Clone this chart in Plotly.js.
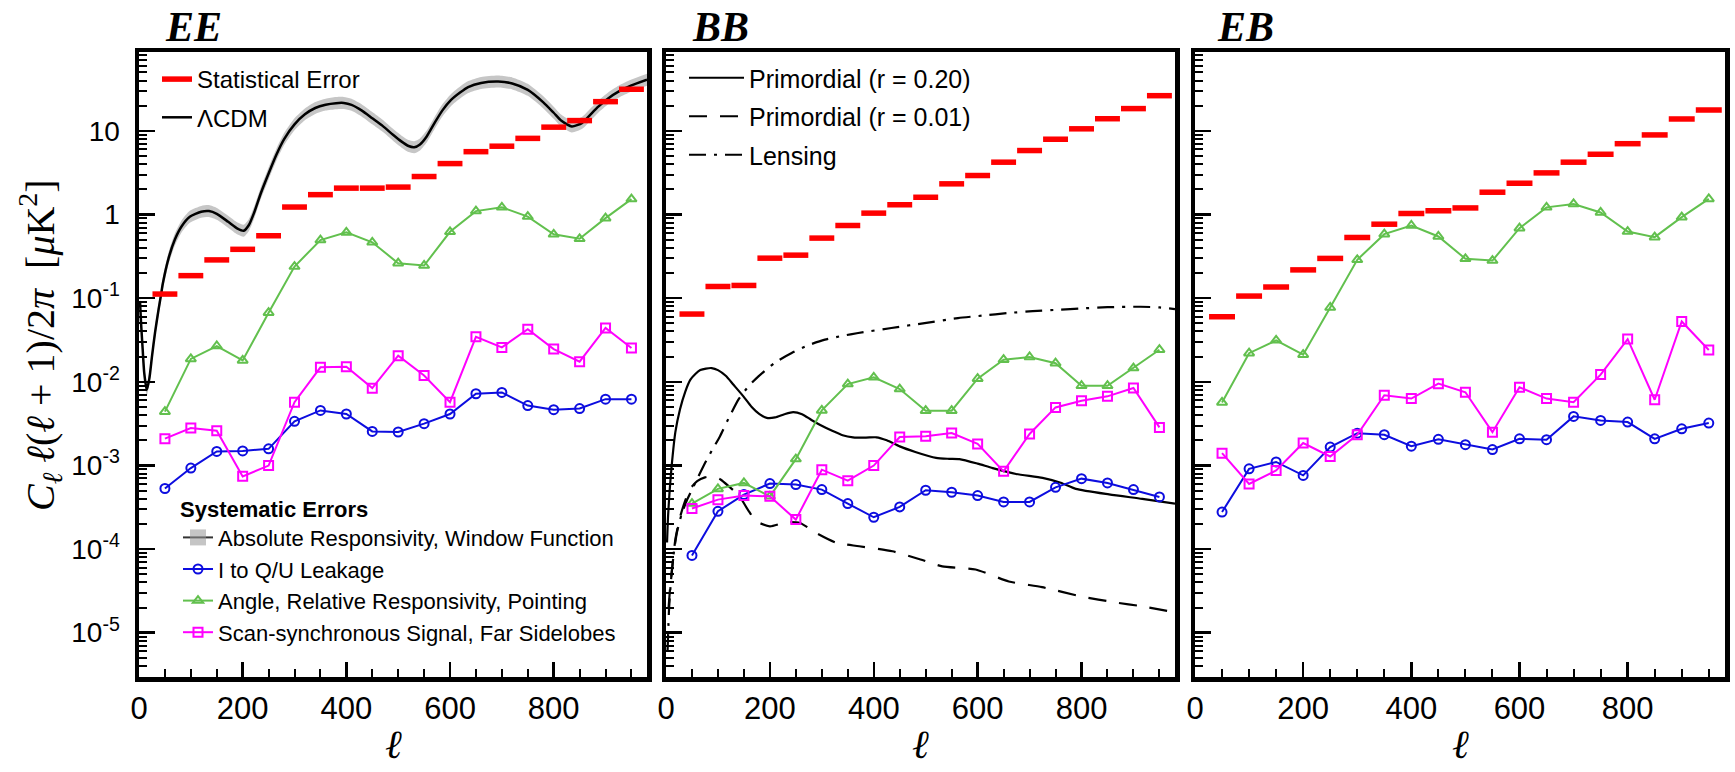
<!DOCTYPE html>
<html>
<head>
<meta charset="utf-8">
<script src="https://cdn.plot.ly/plotly-3.0.1.min.js"></script>
<style>html,body{margin:0;padding:0;background:#fff;}#chart{width:1735px;height:772px;}</style>
</head>
<body>
<div id="chart"></div>
<script>
// ---------------- DATA ----------------
const binCenters = [50,100,150,200,250,300,350,400,450,500,550,600,650,700,750,800,850,900,950];
const binHalfWidth = 24;

// EE
const eeStat   = [0.112,0.186,0.287,0.384,0.558,1.23,1.73,2.07,2.07,2.13,2.85,4.07,5.65,6.57,8.15,11.1,13.3,22.4,31.5];
const eeLeak   = [5.3e-4,9.3e-4,1.47e-3,1.49e-3,1.58e-3,3.37e-3,4.55e-3,4.12e-3,2.55e-3,2.51e-3,3.16e-3,4.12e-3,7.2e-3,7.47e-3,5.2e-3,4.64e-3,4.79e-3,6.2e-3,6.2e-3];
const eeAngle  = [4.4e-3,0.0188,0.0268,0.018,0.067,0.239,0.496,0.612,0.466,0.262,0.246,0.622,1.1,1.22,0.945,0.58,0.513,0.906,1.53];
const eeScan   = [2.09e-3,2.8e-3,2.6e-3,7.4e-4,9.96e-4,5.7e-3,0.0149,0.0151,8.4e-3,0.0205,0.0119,5.7e-3,0.0345,0.0258,0.0425,0.0246,0.0174,0.044,0.0254];

// LambdaCDM EE model curve and its band (absolute responsivity, window function)
const lcdmEll = [2,4,7,10,15,20,25,31,38,42,46,57,69,82,98,120,135,150,172,190,202,212,222,235,250,265,280,300,320,340,360,380,395,410,430,450,470,490,506,520,531,542,555,570,585,602,620,635,660,693,720,750,780,800,815,835,855,870,886,905,925,950,980];
const lcdmVal = [0.09,0.05,0.025,0.013,0.008,0.011,0.02,0.039,0.075,0.105,0.15,0.3,0.5,0.72,0.94,1.08,1.1,1.02,0.82,0.68,0.64,0.75,1.05,1.8,3.1,5.2,8.0,12,15.8,18.8,20.6,21.5,21.6,20.5,17.5,14.2,11.5,9.0,7.5,6.6,6.4,6.9,8.6,12.4,17.5,23.5,29,33.5,37.5,39,37,31,22,16.5,13.2,11.3,12.5,15.5,19.5,24.5,29.5,35,41];
const lcdmBandLow  = [0.0763,0.0424,0.0212,0.011,0.00678,0.00932,0.0169,0.033,0.0636,0.089,0.127,0.254,0.424,0.61,0.797,0.915,0.932,0.864,0.695,0.576,0.542,0.636,0.89,1.53,2.63,4.41,6.78,10.2,13.4,15.9,17.5,18.2,18.3,17.4,14.8,12.0,9.75,7.63,6.36,5.59,5.42,5.85,7.29,10.5,14.8,19.9,24.6,28.4,31.8,33.1,31.4,26.3,18.6,14,11.2,9.58,10.6,13.1,16.5,20.8,25,29.7,34.7];
const lcdmBandHigh = [0.106,0.059,0.0295,0.0153,0.00944,0.013,0.0236,0.046,0.0885,0.124,0.177,0.354,0.59,0.85,1.11,1.27,1.3,1.2,0.968,0.802,0.755,0.885,1.24,2.12,3.66,6.14,9.44,14.2,18.6,22.2,24.3,25.4,25.5,24.2,20.7,16.8,13.6,10.6,8.85,7.79,7.55,8.14,10.1,14.6,20.7,27.7,34.2,39.5,44.3,46,43.7,36.6,26,19.5,15.6,13.3,14.8,18.3,23,28.9,34.8,41.3,48.4];

// BB
const bbStat   = [0.0646,0.138,0.142,0.301,0.327,0.523,0.74,1.04,1.31,1.61,2.33,2.93,4.23,5.83,7.96,10.6,14.0,18.5,26.4];
const bbLeak   = [8.4e-5,2.83e-4,4.48e-4,6.07e-4,5.9e-4,5.14e-4,3.5e-4,2.4e-4,3.19e-4,5.05e-4,4.78e-4,4.36e-4,3.66e-4,3.66e-4,5.47e-4,6.95e-4,6.18e-4,5.14e-4,4.2e-4];
const bbAngle  = [3.5e-4,5.24e-4,6.18e-4,4.27e-4,1.19e-3,4.55e-3,9.4e-3,0.0113,8.2e-3,4.51e-3,4.51e-3,0.0109,0.0184,0.0198,0.0167,8.97e-3,8.97e-3,0.0146,0.0242];
const bbScan   = [3.05e-4,3.9e-4,4.36e-4,4.27e-4,2.25e-4,8.9e-4,6.58e-4,9.96e-4,2.19e-3,2.23e-3,2.44e-3,1.81e-3,8.5e-4,2.38e-3,4.94e-3,5.94e-3,6.7e-3,8.44e-3,2.85e-3];

const prim20Ell = [2,4,7,11,18,27,37,47,57,66,77,88,100,115,130,149,165,180,194,210,228,245,262,280,296,320,340,360,385,405,425,450,480,520,545,565,600,629,674,725,760,789,853,917,980];
const prim20Val = [1.2e-4,2.5e-4,5e-4,1e-3,2.5e-3,4.7e-3,7.6e-3,0.0106,0.0125,0.0138,0.0144,0.0146,0.0138,0.0118,9.2e-3,6.7e-3,5.0e-3,4.1e-3,3.7e-3,3.75e-3,4.1e-3,4.35e-3,4.1e-3,3.5e-3,3.07e-3,2.6e-3,2.3e-3,2.17e-3,2.15e-3,2.17e-3,2.0e-3,1.69e-3,1.45e-3,1.23e-3,1.2e-3,1.19e-3,1.05e-3,9.3e-4,7.9e-4,7.1e-4,6.2e-4,5.24e-4,4.5e-4,3.98e-4,3.5e-4];

const prim01Ell = [5,8,12,18,27,37,47,60,75,91,105,120,141,160,174,200,232,258,289,328,372,436,490,532,596,660,724,801,865,916,980];
const prim01Val = [2e-5,3.5e-5,6e-5,1.3e-4,2.4e-4,3.8e-4,5.3e-4,6.5e-4,7.2e-4,7.4e-4,6.8e-4,5.7e-4,4.3e-4,2.8e-4,2.15e-4,1.87e-4,2.1e-4,2.05e-4,1.56e-4,1.19e-4,1.08e-4,9.4e-5,7.5e-5,6.2e-5,5.7e-5,4.1e-5,3.5e-5,2.7e-5,2.3e-5,2.07e-5,1.75e-5];

const lensEll = [3,6,10,15,21,30,40,53,72,88,104,120,140,160,178,210,242,275,306,340,370,434,498,562,610,658,706,754,802,850,914,950,980];
const lensVal = [6e-6,2e-5,4.5e-5,9e-5,1.58e-4,2.6e-4,3.8e-4,5.6e-4,9.8e-4,1.5e-3,2.24e-3,3.6e-3,6.2e-3,9e-3,0.0116,0.017,0.0221,0.0275,0.0319,0.0355,0.0383,0.044,0.0504,0.0578,0.062,0.0664,0.07,0.0727,0.0755,0.078,0.079,0.0775,0.074];

// EB
const ebStat   = [0.060,0.106,0.136,0.218,0.299,0.532,0.767,1.03,1.11,1.20,1.85,2.37,3.15,4.23,5.26,7.04,8.96,13.9,17.8];
const ebLeak   = [2.77e-4,9.1e-4,1.1e-3,7.6e-4,1.66e-3,2.43e-3,2.33e-3,1.7e-3,2.05e-3,1.77e-3,1.55e-3,2.08e-3,2.03e-3,3.86e-3,3.45e-3,3.3e-3,2.08e-3,2.74e-3,3.21e-3];
const ebAngle  = [5.67e-3,0.022,0.0313,0.0211,0.0774,0.288,0.583,0.74,0.547,0.296,0.282,0.687,1.22,1.34,1.06,0.627,0.537,0.931,1.54];
const ebScan   = [1.4e-3,6.0e-4,8.7e-4,1.85e-3,1.28e-3,2.33e-3,6.9e-3,6.3e-3,9.5e-3,7.5e-3,2.5e-3,8.6e-3,6.3e-3,5.7e-3,0.0122,0.0324,6.1e-3,0.0527,0.024];

const panelTitles = ['EE','BB','EB'];
const yTickVals = [1e-5,1e-4,1e-3,1e-2,1e-1,1,10];
const yTickText = ['10<sup>-5</sup>','10<sup>-4</sup>','10<sup>-3</sup>','10<sup>-2</sup>','10<sup>-1</sup>','1','10'];
const xTickVals = [0,200,400,600,800];

// ---------------- STYLE ----------------
const W = 1735, H = 772;
const C_RED = '#ff0000', C_BLUE = '#0d0ddf', C_GREEN = '#62c04e', C_MAG = '#ff00ff', C_BAND = '#c6c6c6';
const SANS = 'Liberation Sans, Arial, Helvetica, sans-serif';
const SERIF = 'Liberation Serif, Times New Roman, serif';
const px = v => v / W, py = v => (H - v) / H;

function statBars(vals, axSuffix, show) {
  const x = [], y = [];
  binCenters.forEach((c, i) => { x.push(c - binHalfWidth, c + binHalfWidth, null); y.push(vals[i], vals[i], null); });
  return {x, y, mode:'lines', line:{color:C_RED, width:5.5}, name:'Statistical Error', legendgroup:'stat',
    xaxis:'x'+axSuffix, yaxis:'y'+axSuffix, showlegend:show, legend:'legend', legendrank:1, hoverinfo:'skip'};
}
function sysTrace(vals, color, symbol, name, axSuffix, show, rank) {
  return {x: binCenters, y: vals, mode:'lines+markers', name,
    line:{color, width:2}, marker:{symbol, size:9, color, line:{color, width:2}},
    xaxis:'x'+axSuffix, yaxis:'y'+axSuffix, showlegend:show, legend:'legend2', legendrank:rank};
}

const traces = [];
// EE band + model
traces.push({x: lcdmEll, y: lcdmBandLow, mode:'lines', line:{width:0, color:C_BAND, shape:'spline', smoothing:0.6}, showlegend:false, xaxis:'x', yaxis:'y', hoverinfo:'skip'});
traces.push({x: lcdmEll, y: lcdmBandHigh, mode:'lines', line:{width:0, color:C_BAND, shape:'spline', smoothing:0.6}, fill:'tonexty', fillcolor:C_BAND, showlegend:false, xaxis:'x', yaxis:'y', hoverinfo:'skip'});
traces.push({x: lcdmEll, y: lcdmVal, mode:'lines', line:{color:'#000', width:2.5, shape:'spline', smoothing:0.6}, name:'ΛCDM', legendgroup:'lcdm', legend:'legend', legendrank:2, xaxis:'x', yaxis:'y'});
traces.push(statBars(eeStat, '', true));
// legend-only sample for the band
traces.push({x:[-100], y:[1], mode:'lines+markers', name:'Absolute Responsivity, Window Function',
  line:{color:'#333', width:2}, marker:{symbol:'square', size:16, color:'rgba(150,150,150,0.55)', line:{width:0}},
  xaxis:'x', yaxis:'y', legend:'legend2', legendrank:1, hoverinfo:'skip'});
traces.push(sysTrace(eeLeak, C_BLUE, 'circle-open', 'I to Q/U Leakage', '', true, 2));
traces.push(sysTrace(eeAngle, C_GREEN, 'triangle-up-open', 'Angle, Relative Responsivity, Pointing', '', true, 3));
traces.push(sysTrace(eeScan, C_MAG, 'square-open', 'Scan-synchronous Signal, Far Sidelobes', '', true, 4));

// BB
traces.push({x: prim20Ell, y: prim20Val, mode:'lines', line:{color:'#000', width:2.2, shape:'spline', smoothing:0.6}, name:'Primordial (r = 0.20)', legend:'legend3', legendrank:1, xaxis:'x2', yaxis:'y2'});
traces.push({x: prim01Ell, y: prim01Val, mode:'lines', line:{color:'#000', width:2.2, dash:'18px,13px', shape:'spline', smoothing:0.6}, name:'Primordial (r = 0.01)', legend:'legend3', legendrank:2, xaxis:'x2', yaxis:'y2'});
traces.push({x: lensEll, y: lensVal, mode:'lines', line:{color:'#000', width:2.2, dash:'17px,8px,3px,8px', shape:'spline', smoothing:0.6}, name:'Lensing', legend:'legend3', legendrank:3, xaxis:'x2', yaxis:'y2'});
traces.push(statBars(bbStat, '2', false));
traces.push(sysTrace(bbLeak, C_BLUE, 'circle-open', 'I to Q/U Leakage', '2', false, 2));
traces.push(sysTrace(bbAngle, C_GREEN, 'triangle-up-open', 'Angle', '2', false, 3));
traces.push(sysTrace(bbScan, C_MAG, 'square-open', 'Scan', '2', false, 4));

// EB
traces.push(statBars(ebStat, '3', false));
traces.push(sysTrace(ebLeak, C_BLUE, 'circle-open', 'I to Q/U Leakage', '3', false, 2));
traces.push(sysTrace(ebAngle, C_GREEN, 'triangle-up-open', 'Angle', '3', false, 3));
traces.push(sysTrace(ebScan, C_MAG, 'square-open', 'Scan', '3', false, 4));

// ---------------- AXES ----------------
const yRange = [-5.53, 1.944];
const yMinor = [];
for (let d = -6; d <= 1; d++) for (let k = 2; k <= 9; k++) yMinor.push(k * Math.pow(10, d));

const panelsPx = [[139, 647], [666, 1175], [1195, 1725]];
const yDomain = [py(677), py(52)];

function xAxis(i) {
  return {domain:[px(panelsPx[i][0]), px(panelsPx[i][1])], anchor: i === 0 ? 'y' : 'y' + (i + 1),
    range:[0, 980], tickmode:'array', tickvals:xTickVals, ticks:'inside', ticklen:15, tickwidth:2.5, tickcolor:'#000',
    showline:true, linewidth:4.5, linecolor:'#000', mirror:true, showgrid:false, zeroline:false,
    ticklabelstandoff:0,
    tickfont:{family:SANS, size:31, color:'#000'},
    minor:{tickmode:'linear', tick0:0, dtick:50, ticks:'inside', ticklen:8, tickwidth:2, tickcolor:'#000', showgrid:false}};
}
function yAxis(i) {
  return {domain:yDomain, anchor: i === 0 ? 'x' : 'x' + (i + 1), type:'log', range:yRange,
    tickmode:'array', tickvals:yTickVals, ticktext:yTickText, showticklabels: i === 0,
    ticks:'inside', ticklen:16, tickwidth:2.5, tickcolor:'#000',
    showline:true, linewidth:4.5, linecolor:'#000', mirror:true, showgrid:false, zeroline:false,
    ticklabelstandoff:9,
    tickfont:{family:SANS, size:28, color:'#000'},
    minor:{tickmode:'array', tickvals:yMinor, ticks:'inside', ticklen:8, tickwidth:2, tickcolor:'#000', showgrid:false}};
}

const annotations = [];
const titleLeft = [163, 690, 1215];
panelTitles.forEach((t, i) => annotations.push({text:'<b><i>' + t + '</i></b>', x:px(titleLeft[i]), y:py(27), xref:'paper', yref:'paper',
  xanchor:'left', yanchor:'middle', showarrow:false, font:{family:SERIF, size:42, color:'#000'}}));
panelsPx.forEach(p => annotations.push({text:'<i>ℓ</i>', x:px((p[0] + p[1]) / 2), y:py(744), xref:'paper', yref:'paper',
  xanchor:'center', yanchor:'middle', showarrow:false, font:{family:SERIF, size:40, color:'#000'}}));
annotations.push({text:'<i>C</i><sub><i>ℓ</i></sub> <i>ℓ</i>(<i>ℓ</i> + 1)/2<i>π</i>\u2002[<i>μ</i>K<sup>2</sup>]',
  x:px(40), y:py(345), xref:'paper', yref:'paper', xanchor:'center', yanchor:'middle', textangle:-90, showarrow:false,
  font:{family:SERIF, size:40, color:'#000'}});

const layout = {
  width:W, height:H, margin:{l:0, r:0, t:0, b:0}, paper_bgcolor:'#fff', plot_bgcolor:'#fff',
  xaxis:xAxis(0), xaxis2:xAxis(1), xaxis3:xAxis(2),
  yaxis:yAxis(0), yaxis2:yAxis(1), yaxis3:yAxis(2),
  showlegend:true,
  legend:{x:px(157), y:py(57), xanchor:'left', yanchor:'top', bgcolor:'rgba(0,0,0,0)', borderwidth:0,
    font:{family:SANS, size:24, color:'#000'}, itemwidth:30, traceorder:'grouped', tracegroupgap:4},
  legend2:{x:px(178), y:py(488), xanchor:'left', yanchor:'top', bgcolor:'rgba(0,0,0,0)', borderwidth:0,
    title:{text:'<b>Systematic Errors</b>', font:{family:SANS, size:22, color:'#000'}},
    font:{family:SANS, size:22, color:'#000'}, itemwidth:30, traceorder:'normal'},
  legend3:{x:px(684), y:py(55), xanchor:'left', yanchor:'top', bgcolor:'rgba(0,0,0,0)', borderwidth:0,
    font:{family:SANS, size:25, color:'#000'}, itemwidth:55, traceorder:'grouped', tracegroupgap:3},
  annotations
};
// give BB curves their own legend groups so tracegroupgap spaces them
traces.forEach(t => { if (t.legend === 'legend3') t.legendgroup = t.name; });

Plotly.newPlot('chart', traces, layout, {displayModeBar:false, staticPlot:true});
</script>
</body>
</html>
